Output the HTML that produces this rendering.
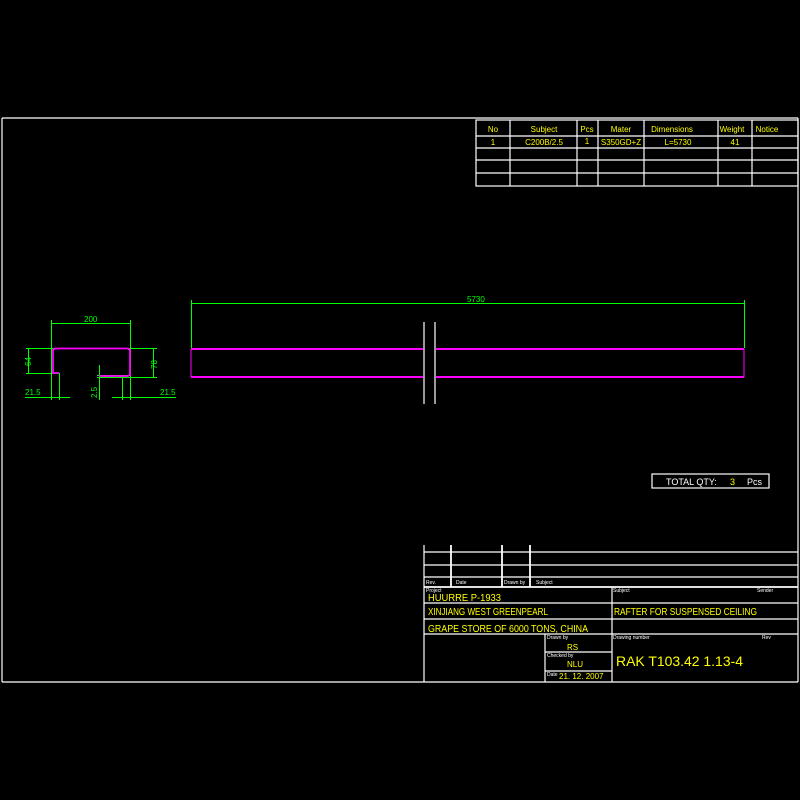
<!DOCTYPE html>
<html><head><style>html,body{margin:0;padding:0;background:#000}svg{display:block}</style></head><body>
<svg width="800" height="800" xmlns="http://www.w3.org/2000/svg" font-family="Liberation Sans, sans-serif">
<rect width="800" height="800" fill="#000"/>
<g stroke="#fff" stroke-width="1.2" fill="none">
<line x1="2" y1="118" x2="798" y2="118"/>
<line x1="2" y1="682" x2="798" y2="682"/>
<line x1="2" y1="118" x2="2" y2="682"/>
<line x1="798" y1="118" x2="798" y2="682"/>
<rect x="476" y="120" width="322" height="66"/>
<line x1="476" y1="136" x2="798" y2="136"/>
<line x1="476" y1="148" x2="798" y2="148"/>
<line x1="476" y1="160" x2="798" y2="160"/>
<line x1="476" y1="173" x2="798" y2="173"/>
<line x1="510" y1="120" x2="510" y2="186"/>
<line x1="577" y1="120" x2="577" y2="186"/>
<line x1="598" y1="120" x2="598" y2="186"/>
<line x1="644" y1="120" x2="644" y2="186"/>
<line x1="718" y1="120" x2="718" y2="186"/>
<line x1="752" y1="120" x2="752" y2="186"/>
<rect x="652" y="474" width="117" height="14"/>
<line x1="424" y1="545" x2="424" y2="682"/>
<line x1="424" y1="552" x2="798" y2="552"/>
<line x1="424" y1="565" x2="798" y2="565"/>
<line x1="424" y1="577" x2="798" y2="577"/>
<line x1="424" y1="587" x2="798" y2="587" stroke-width="1.8"/>
<line x1="424" y1="603" x2="798" y2="603"/>
<line x1="424" y1="619" x2="798" y2="619"/>
<line x1="424" y1="634" x2="798" y2="634"/>
<line x1="545" y1="652" x2="612" y2="652"/>
<line x1="545" y1="671" x2="612" y2="671"/>
<line x1="451" y1="545" x2="451" y2="587" stroke-width="1.8"/>
<line x1="502" y1="545" x2="502" y2="587" stroke-width="1.8"/>
<line x1="530" y1="545" x2="530" y2="587" stroke-width="1.8"/>
<line x1="612" y1="587" x2="612" y2="682"/>
<line x1="545" y1="634" x2="545" y2="682"/>
<line x1="424" y1="322" x2="424" y2="404"/>
<line x1="435" y1="322" x2="435" y2="404"/>
</g>
<g stroke="#0f0" stroke-width="1" fill="none" shape-rendering="crispEdges">
<line x1="191" y1="303.5" x2="744" y2="303.5"/>
<line x1="191.5" y1="300" x2="191.5" y2="348"/>
<line x1="744.5" y1="300" x2="744.5" y2="348"/>
<line x1="51.5" y1="323.5" x2="130" y2="323.5"/>
<line x1="51.5" y1="320" x2="51.5" y2="400"/>
<line x1="130.5" y1="320" x2="130.5" y2="400"/>
<line x1="26" y1="348.5" x2="157" y2="348.5"/>
<line x1="28.5" y1="348" x2="28.5" y2="373"/>
<line x1="26" y1="373.5" x2="60" y2="373.5"/>
<line x1="59.5" y1="373" x2="59.5" y2="400"/>
<line x1="153.5" y1="348" x2="153.5" y2="377"/>
<line x1="97" y1="375.5" x2="130" y2="375.5"/>
<line x1="97" y1="377.5" x2="157" y2="377.5"/>
<line x1="122.5" y1="375" x2="122.5" y2="400"/>
<line x1="99.5" y1="365" x2="99.5" y2="400"/>
<line x1="25" y1="397.5" x2="70" y2="397.5"/>
<line x1="112" y1="397.5" x2="176" y2="397.5"/>
</g>
<g stroke="#f0f" fill="none">
<line x1="191" y1="349" x2="423" y2="349" stroke-width="2"/>
<line x1="436" y1="349" x2="744" y2="349" stroke-width="2"/>
<line x1="191" y1="377" x2="423" y2="377" stroke-width="2"/>
<line x1="436" y1="377" x2="744" y2="377" stroke-width="2"/>
<line x1="191" y1="349" x2="191" y2="377"/>
<line x1="744" y1="349" x2="744" y2="377"/>
<path d="M59,373 H53 V350 L55,348.5 H128 L130,350 V375 L128,376 H99" stroke-width="1.8"/>
</g>
<g fill="#0f0" font-size="8">
<text x="467" y="302">5730</text>
<text x="84" y="322">200</text>
<text x="25" y="395">21.5</text>
<text x="160" y="395">21.5</text>
<text transform="translate(31,366) rotate(-90)">64</text>
<text transform="translate(157,369) rotate(-90)">78</text>
<text transform="translate(97,398) rotate(-90)">2.5</text>
</g>
<g fill="#ff0" font-size="8" text-anchor="middle">
<text x="493" y="132">No</text><text x="544" y="132">Subject</text><text x="587" y="132">Pcs</text>
<text x="621" y="132">Mater</text><text x="672" y="132">Dimensions</text><text x="732" y="132">Weight</text><text x="767" y="132">Notice</text>
<text x="493" y="145">1</text><text x="544" y="145">C200B/2.5</text><text x="587" y="144">1</text>
<text x="621" y="145">S350GD+Z</text><text x="678" y="145">L=5730</text><text x="735" y="145">41</text>
</g>
<text x="666" y="485" fill="#fff" font-size="9">TOTAL QTY:</text>
<text x="730" y="485" fill="#ff0" font-size="9">3</text>
<text x="747" y="485" fill="#fff" font-size="9">Pcs</text>
<g fill="#fff" font-size="5">
<text x="426" y="584">Rev.</text><text x="456" y="584">Date</text><text x="504" y="584">Drawn by</text><text x="536" y="584">Subject</text>
<text x="426" y="592">Project</text><text x="613" y="592">Subject</text><text x="757" y="592">Sender</text>
<text x="547" y="639">Drawn by</text><text x="547" y="657">Checked by</text><text x="547" y="676">Date</text>
<text x="613" y="639">Drawing number</text><text x="762" y="639">Rev</text>
</g>
<g fill="#ff0" font-size="10">
<text x="428" y="601" textLength="73" lengthAdjust="spacingAndGlyphs">HUURRE P-1933</text>
<text x="428" y="615" textLength="120" lengthAdjust="spacingAndGlyphs">XINJIANG WEST GREENPEARL</text>
<text x="428" y="632" textLength="160" lengthAdjust="spacingAndGlyphs">GRAPE STORE OF 6000 TONS, CHINA</text>
<text x="614" y="615" textLength="143" lengthAdjust="spacingAndGlyphs">RAFTER FOR SUSPENSED CEILING</text>
<text x="567" y="650" font-size="8">RS</text>
<text x="567" y="667" font-size="8">NLU</text>
<text x="559" y="679" font-size="8">21. 12. 2007</text>
<text x="616" y="666" font-size="14" textLength="127" lengthAdjust="spacingAndGlyphs">RAK T103.42 1.13-4</text>
</g>
</svg>
</body></html>
